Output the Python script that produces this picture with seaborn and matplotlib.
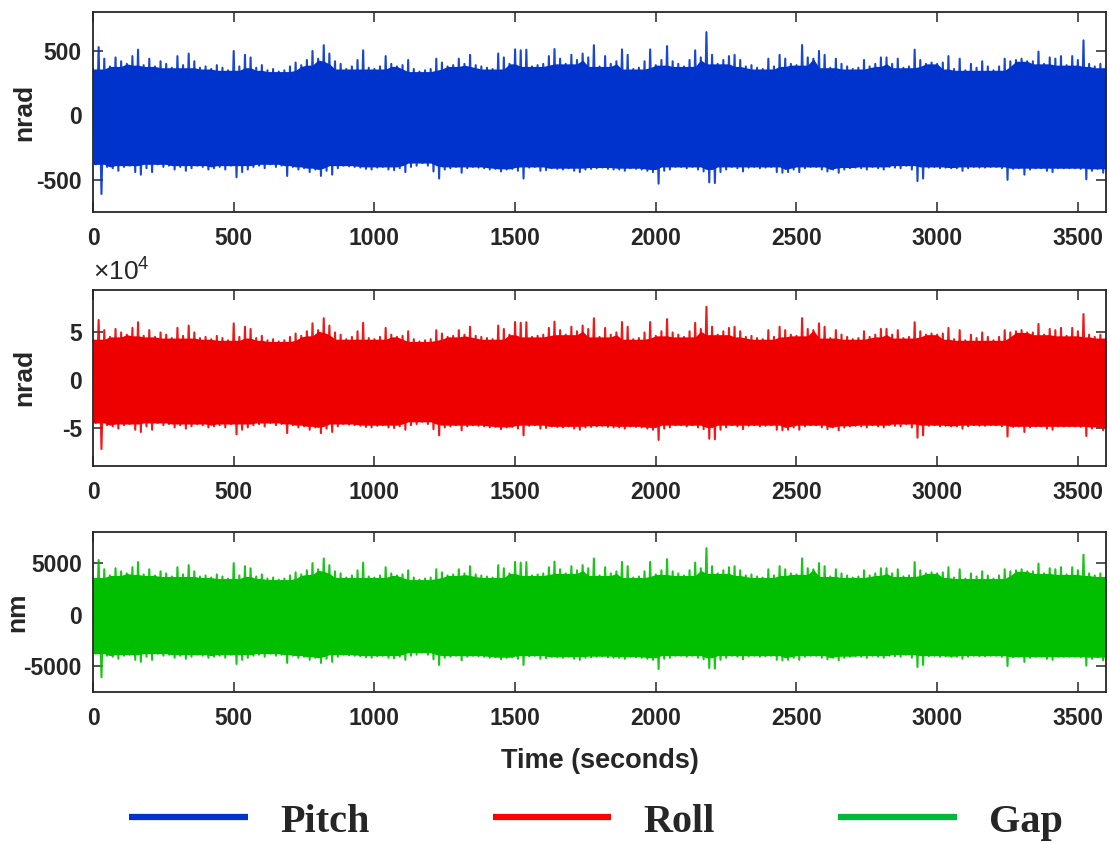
import numpy as np
import matplotlib
matplotlib.use("Agg")
import matplotlib.pyplot as plt
from matplotlib.lines import Line2D
from matplotlib.ticker import FuncFormatter
from matplotlib.font_manager import FontProperties
from numpy.lib.stride_tricks import sliding_window_view
import seaborn as sns

# Peak excursions of each record, one upper and one lower value per 20 s window
pitch_hi = [360, 530, 440, 380, 450, 420, 400, 460, 510, 390, 440, 380, 420, 400, 370,
            460, 390, 480, 420, 370, 380, 360, 390, 370, 350, 500, 380, 470, 450, 370,
            390, 350, 360, 340, 350, 380, 410, 390, 430, 500, 440, 545, 480, 420, 400,
            360, 380, 430, 505, 370, 360, 380, 460, 400, 380, 390, 430, 360, 340, 350,
            360, 440, 410, 380, 390, 440, 400, 470, 390, 380, 370, 360, 480, 450, 400,
            512, 505, 510, 380, 390, 400, 460, 515, 440, 400, 470, 430, 480, 450, 545,
            380, 460, 400, 420, 512, 470, 360, 370, 420, 512, 390, 430, 538, 420, 400,
            380, 430, 505, 450, 646, 470, 400, 430, 460, 470, 430, 380, 390, 370, 360,
            440, 380, 470, 440, 400, 390, 546, 450, 440, 500, 470, 370, 440, 400, 380,
            360, 370, 430, 380, 400, 450, 450, 400, 440, 370, 380, 510, 430, 400, 410,
            400, 410, 460, 360, 440, 350, 400, 370, 420, 380, 350, 380, 440, 420, 430,
            440, 420, 420, 495, 400, 450, 440, 460, 390, 460, 430, 582, 400, 380, 400,
            370]
pitch_lo = [-380, -610, -400, -410, -430, -400, -390, -440, -460, -410, -440, -380, -400, -390, -420,
            -400, -430, -410, -390, -400, -420, -410, -400, -420, -390, -480, -440, -420, -400, -390,
            -410, -380, -400, -390, -470, -400, -420, -410, -440, -420, -470, -430, -460, -410, -390,
            -395, -400, -405, -415, -420, -405, -400, -420, -425, -410, -440, -400, -390, -370, -390,
            -435, -490, -420, -410, -400, -445, -410, -400, -405, -410, -420, -415, -435, -420, -415,
            -430, -490, -405, -400, -430, -425, -410, -415, -420, -410, -430, -440, -420, -415, -410,
            -405, -415, -420, -420, -430, -410, -415, -420, -430, -440, -530, -430, -420, -400, -400,
            -410, -400, -420, -435, -520, -525, -440, -420, -400, -410, -435, -405, -400, -410, -405,
            -400, -440, -445, -440, -420, -440, -410, -400, -400, -420, -435, -420, -445, -420, -410,
            -405, -410, -420, -400, -410, -420, -400, -405, -410, -390, -420, -510, -490, -405, -400,
            -410, -405, -410, -410, -430, -410, -400, -405, -405, -400, -400, -410, -500, -415, -410,
            -460, -420, -410, -410, -430, -440, -410, -410, -410, -410, -415, -496, -430, -415, -445,
            -500]

# Roll in units of 1e4 nrad
roll_hi = [4.21, 6.20, 5.15, 4.45, 5.27, 4.91, 4.68, 5.38, 5.97, 4.56, 5.15, 4.45, 4.91, 4.68, 4.33,
           5.38, 4.56, 5.62, 4.91, 4.33, 4.45, 4.21, 4.56, 4.33, 4.10, 5.85, 4.45, 5.50, 5.27, 4.33,
           4.56, 4.10, 4.21, 3.98, 4.10, 4.45, 4.80, 4.56, 5.03, 5.85, 5.15, 6.38, 5.62, 4.91, 4.68,
           4.21, 4.45, 5.03, 5.91, 4.33, 4.21, 4.45, 5.38, 4.68, 4.45, 4.56, 5.03, 4.21, 3.98, 4.10,
           4.21, 5.15, 4.80, 4.45, 4.56, 5.15, 4.68, 5.50, 4.56, 4.45, 4.33, 4.21, 5.62, 5.27, 4.68,
           5.99, 5.91, 5.97, 4.45, 4.56, 4.68, 5.38, 6.03, 5.15, 4.68, 5.50, 5.03, 5.62, 5.27, 6.38,
           4.45, 5.38, 4.68, 4.91, 5.99, 5.50, 4.21, 4.33, 4.91, 5.99, 4.56, 5.03, 6.29, 4.91, 4.68,
           4.45, 5.03, 5.91, 5.27, 7.56, 5.50, 4.68, 5.03, 5.38, 5.50, 5.03, 4.45, 4.56, 4.33, 4.21,
           5.15, 4.45, 5.50, 5.15, 4.68, 4.56, 6.39, 5.27, 5.15, 5.85, 5.50, 4.33, 5.15, 4.68, 4.45,
           4.21, 4.33, 5.03, 4.45, 4.68, 5.27, 5.27, 4.68, 5.15, 4.33, 4.45, 5.97, 5.03, 4.68, 4.80,
           4.68, 4.80, 5.38, 4.21, 5.15, 4.10, 4.68, 4.33, 4.91, 4.45, 4.10, 4.45, 5.15, 4.91, 5.03,
           5.15, 4.91, 4.91, 5.79, 4.68, 5.27, 5.15, 5.38, 4.56, 5.38, 5.03, 6.81, 4.68, 4.45, 4.68,
           4.33]
roll_lo = [-4.45, -7.14, -4.68, -4.80, -5.03, -4.68, -4.56, -5.15, -5.38, -4.80, -5.15, -4.45, -4.68, -4.56, -4.91,
           -4.68, -5.03, -4.80, -4.56, -4.68, -4.91, -4.80, -4.68, -4.91, -4.56, -5.62, -5.15, -4.91, -4.68, -4.56,
           -4.80, -4.45, -4.68, -4.56, -5.50, -4.68, -4.91, -4.80, -5.15, -4.91, -5.50, -5.03, -5.38, -4.80, -4.56,
           -4.62, -4.68, -4.74, -4.86, -4.91, -4.74, -4.68, -4.91, -4.97, -4.80, -5.15, -4.68, -4.56, -4.33, -4.56,
           -5.09, -5.73, -4.91, -4.80, -4.68, -5.21, -4.80, -4.68, -4.74, -4.80, -4.91, -4.86, -5.09, -4.91, -4.86,
           -5.03, -5.73, -4.74, -4.68, -5.03, -4.97, -4.80, -4.86, -4.91, -4.80, -5.03, -5.15, -4.91, -4.86, -4.80,
           -4.74, -4.86, -4.91, -4.91, -5.03, -4.80, -4.86, -4.91, -5.03, -5.15, -6.20, -5.03, -4.91, -4.68, -4.68,
           -4.80, -4.68, -4.91, -5.09, -6.08, -6.14, -5.15, -4.91, -4.68, -4.80, -5.09, -4.74, -4.68, -4.80, -4.74,
           -4.68, -5.15, -5.21, -5.15, -4.91, -5.15, -4.80, -4.68, -4.68, -4.91, -5.09, -4.91, -5.21, -4.91, -4.80,
           -4.74, -4.80, -4.91, -4.68, -4.80, -4.91, -4.68, -4.74, -4.80, -4.56, -4.91, -5.97, -5.73, -4.74, -4.68,
           -4.80, -4.74, -4.80, -4.80, -5.03, -4.80, -4.68, -4.74, -4.74, -4.68, -4.68, -4.80, -5.85, -4.86, -4.80,
           -5.38, -4.91, -4.80, -4.80, -5.03, -5.15, -4.80, -4.80, -4.80, -4.80, -4.86, -5.80, -5.03, -4.86, -5.21,
           -5.85]

gap_hi = [3600, 5300, 4400, 3800, 4500, 4200, 4000, 4600, 5100, 3900, 4400, 3800, 4200, 4000, 3700,
          4600, 3900, 4800, 4200, 3700, 3800, 3600, 3900, 3700, 3500, 5000, 3800, 4700, 4500, 3700,
          3900, 3500, 3600, 3400, 3500, 3800, 4100, 3900, 4300, 5000, 4400, 5450, 4800, 4200, 4000,
          3600, 3800, 4300, 5050, 3700, 3600, 3800, 4600, 4000, 3800, 3900, 4300, 3600, 3400, 3500,
          3600, 4400, 4100, 3800, 3900, 4400, 4000, 4700, 3900, 3800, 3700, 3600, 4800, 4500, 4000,
          5120, 5050, 5100, 3800, 3900, 4000, 4600, 5150, 4400, 4000, 4700, 4300, 4800, 4500, 5450,
          3800, 4600, 4000, 4200, 5120, 4700, 3600, 3700, 4200, 5120, 3900, 4300, 5380, 4200, 4000,
          3800, 4300, 5050, 4500, 6460, 4700, 4000, 4300, 4600, 4700, 4300, 3800, 3900, 3700, 3600,
          4400, 3800, 4700, 4400, 4000, 3900, 5460, 4500, 4400, 5000, 4700, 3700, 4400, 4000, 3800,
          3600, 3700, 4300, 3800, 4000, 4500, 4500, 4000, 4400, 3700, 3800, 5100, 4300, 4000, 4100,
          4000, 4100, 4600, 3600, 4400, 3500, 4000, 3700, 4200, 3800, 3500, 3800, 4400, 4200, 4300,
          4400, 4200, 4200, 4950, 4000, 4500, 4400, 4600, 3900, 4600, 4300, 5820, 4000, 3800, 4000,
          3700]
gap_lo = [-3800, -6100, -4000, -4100, -4300, -4000, -3900, -4400, -4600, -4100, -4400, -3800, -4000, -3900, -4200,
          -4000, -4300, -4100, -3900, -4000, -4200, -4100, -4000, -4200, -3900, -4800, -4400, -4200, -4000, -3900,
          -4100, -3800, -4000, -3900, -4700, -4000, -4200, -4100, -4400, -4200, -4700, -4300, -4600, -4100, -3900,
          -3950, -4000, -4050, -4150, -4200, -4050, -4000, -4200, -4250, -4100, -4400, -4000, -3900, -3700, -3900,
          -4350, -4900, -4200, -4100, -4000, -4450, -4100, -4000, -4050, -4100, -4200, -4150, -4350, -4200, -4150,
          -4300, -4900, -4050, -4000, -4300, -4250, -4100, -4150, -4200, -4100, -4300, -4400, -4200, -4150, -4100,
          -4050, -4150, -4200, -4200, -4300, -4100, -4150, -4200, -4300, -4400, -5300, -4300, -4200, -4000, -4000,
          -4100, -4000, -4200, -4350, -5200, -5250, -4400, -4200, -4000, -4100, -4350, -4050, -4000, -4100, -4050,
          -4000, -4400, -4450, -4400, -4200, -4400, -4100, -4000, -4000, -4200, -4350, -4200, -4450, -4200, -4100,
          -4050, -4100, -4200, -4000, -4100, -4200, -4000, -4050, -4100, -3900, -4200, -5100, -4900, -4050, -4000,
          -4100, -4050, -4100, -4100, -4300, -4100, -4000, -4050, -4050, -4000, -4000, -4100, -5000, -4150, -4100,
          -4600, -4200, -4100, -4100, -4300, -4400, -4100, -4100, -4100, -4100, -4150, -4960, -4300, -4150, -4450,
          -5000]

series_names = ["Pitch", "Roll", "Gap"]
y_labels = ["nrad", "nrad", "nm"]
x_ticks = [0, 500, 1000, 1500, 2000, 2500, 3000, 3500]

colors = {"Pitch": "#0033CC", "Roll": "#EE0000", "Gap": "#00BF00"}
legend_colors = {"Pitch": "#0033CC", "Roll": "#FF0000", "Gap": "#00B83A"}
INK = "#262626"

sns.set_theme(style="ticks")
plt.rcParams["font.family"] = ["Liberation Sans", "DejaVu Sans"]
plt.rcParams["font.weight"] = "bold"
plt.rcParams["axes.unicode_minus"] = False
plt.rcParams["mathtext.fontset"] = "custom"
plt.rcParams["mathtext.rm"] = "Liberation Sans"

time_hi = np.arange(0, 3601, 20, dtype=float)   # window start of each upper peak
time_lo = time_hi + 10                            # lower peaks sit between them


def draw_record(ax, hi, lo, color):
    hi = np.asarray(hi, float)
    lo = np.asarray(lo, float)
    t = np.empty(2 * len(hi))
    y = np.empty(2 * len(hi))
    t[0::2], t[1::2] = time_hi, time_lo
    y[0::2], y[1::2] = hi, lo
    # dense body of the trace: local floor of the upper peaks / ceiling of the lower ones
    core_hi = sliding_window_view(np.pad(hi, 2, mode="edge"), 5).min(axis=1)
    core_lo = sliding_window_view(np.pad(lo, 2, mode="edge"), 5).max(axis=1)
    ax.fill_between(time_hi, core_lo, core_hi, color=color, lw=0)
    sns.lineplot(x=t, y=y, ax=ax, color=color, lw=1.5, alpha=0.9, estimator=None,
                 sort=False, legend=False)


fig = plt.figure(figsize=(11.10, 8.43), dpi=100)
ax_p = fig.add_axes([0.0838, 0.7485, 0.9126, 0.2369])
ax_r = fig.add_axes([0.0838, 0.4478, 0.9126, 0.2082])
ax_g = fig.add_axes([0.0838, 0.1795, 0.9126, 0.1891])

draw_record(ax_p, pitch_hi, pitch_lo, colors["Pitch"])
draw_record(ax_r, np.asarray(roll_hi) * 1e4, np.asarray(roll_lo) * 1e4, colors["Roll"])
draw_record(ax_g, gap_hi, gap_lo, colors["Gap"])

ax_p.set_ylim(-750, 800)
ax_p.set_yticks([-500, 0, 500])
ax_r.set_ylim(-8.85e4, 9.3e4)
ax_r.set_yticks([-5e4, 0, 5e4])
ax_r.yaxis.set_major_formatter(FuncFormatter(lambda v, _: f"{v / 1e4:g}"))
ax_g.set_ylim(-7500, 8000)
ax_g.set_yticks([-5000, 0, 5000])

label_x = [-0.056, -0.056, -0.063]
for ax, lab, lx in zip([ax_p, ax_r, ax_g], y_labels, label_x):
    ax.set_xlim(0, 3600)
    ax.set_xticks(x_ticks)
    ax.set_xlabel("")
    ax.set_ylabel(lab, fontsize=19, fontweight="bold", color=INK)
    ax.yaxis.set_label_coords(lx, 0.5)
    ax.tick_params(direction="in", top=True, right=True, length=7.5, width=1.1,
                   color=INK, labelcolor=INK, labelsize=16.5)
    ax.tick_params(axis="x", pad=11)
    ax.tick_params(axis="y", pad=8)
    for lbl in ax.get_xticklabels() + ax.get_yticklabels():
        lbl.set_fontweight("bold")
    for sp in ax.spines.values():
        sp.set_visible(True)
        sp.set_color(INK)
        sp.set_linewidth(1.3)

ax_r.text(0.0, 1.025, r"$\mathregular{\times 10^{4}}$", transform=ax_r.transAxes,
          fontsize=19, color=INK, ha="left", va="bottom", fontweight="normal")

ax_g.set_xlabel("Time (seconds)", fontsize=19.5, fontweight="bold", color=INK)
ax_g.xaxis.set_label_coords(0.5, -0.355)
ax_g.xaxis.label.set_va("top")

handles = [Line2D([], [], color=legend_colors[n], lw=4.5, solid_capstyle="butt")
           for n in series_names]
fig.legend(handles, series_names, loc="center", bbox_to_anchor=(0.537, 0.025),
           ncol=3, frameon=False,
           prop=FontProperties(family="Liberation Serif", weight="bold", size=29),
           handlelength=2.95, handletextpad=0.8, columnspacing=3.05, borderpad=0)

fig.savefig("out.png", dpi=100)
